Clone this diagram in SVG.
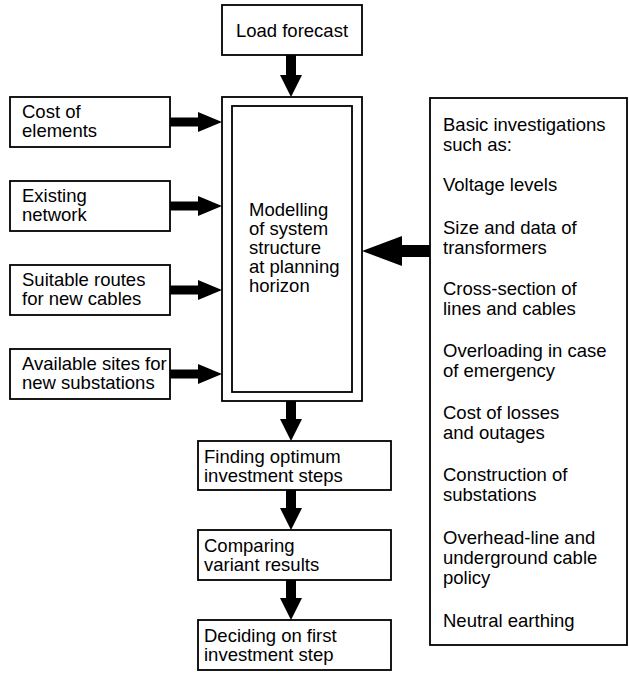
<svg xmlns="http://www.w3.org/2000/svg" width="629" height="673" viewBox="0 0 629 673">
  <style>
    .box { fill: #fff; stroke: #000; stroke-width: 1.8; }
    .txt { font-family: "Liberation Sans", Arial, Helvetica, sans-serif; font-size: 18.5px; fill: #000; }
    .arrow { fill: #000; stroke: none; }
  </style>
  <rect width="629" height="673" fill="#fff"/>

  <!-- connectors: solid block arrows -->
  <g id="connectors">
    <!-- Load forecast -> model -->
    <path class="arrow" d="M286,55 H296 V75 H302 L291,97 L280,75 H286 Z"/>
    <!-- inputs from the left -->
    <path class="arrow" d="M170,117.5 H198 V112 L222,122 L198,132 V126.5 H170 Z"/>
    <path class="arrow" d="M170,201.5 H198 V196 L222,206 L198,216 V210.5 H170 Z"/>
    <path class="arrow" d="M170,285.5 H198 V280 L222,290 L198,300 V294.5 H170 Z"/>
    <path class="arrow" d="M170,369.5 H198 V364 L222,374 L198,384 V378.5 H170 Z"/>
    <!-- basic investigations -> model -->
    <path class="arrow" d="M430,245 H402 V236 L362,251 L402,266 V257 H430 Z"/>
    <!-- model -> decision chain -->
    <path class="arrow" d="M286,401 H296 V419 H302 L291,441 L280,419 H286 Z"/>
    <path class="arrow" d="M286,490 H296 V508 H302 L291,530 L280,508 H286 Z"/>
    <path class="arrow" d="M286,580 H296 V598 H302 L291,620 L280,598 H286 Z"/>
  </g>

  <g id="load-forecast">
    <rect class="box" x="222" y="5" width="140" height="50"/>
    <text class="txt" x="292" y="37" text-anchor="middle">Load forecast</text>
  </g>

  <g id="modelling">
    <rect class="box" x="222" y="97" width="140" height="304"/>
    <rect class="box" x="232" y="106" width="120" height="286"/>
    <text class="txt" x="249" y="216">Modelling</text>
    <text class="txt" x="249" y="235">of system</text>
    <text class="txt" x="249" y="254">structure</text>
    <text class="txt" x="249" y="273">at planning</text>
    <text class="txt" x="249" y="292">horizon</text>
  </g>

  <g id="cost-of-elements">
    <rect class="box" x="10" y="97" width="160" height="50"/>
    <text class="txt" x="22" y="118">Cost of</text>
    <text class="txt" x="22" y="137">elements</text>
  </g>

  <g id="existing-network">
    <rect class="box" x="10" y="181" width="160" height="50"/>
    <text class="txt" x="22" y="202">Existing</text>
    <text class="txt" x="22" y="221">network</text>
  </g>

  <g id="suitable-routes">
    <rect class="box" x="10" y="265" width="160" height="50"/>
    <text class="txt" x="22" y="286">Suitable routes</text>
    <text class="txt" x="22" y="305">for new cables</text>
  </g>

  <g id="available-sites">
    <rect class="box" x="10" y="349" width="160" height="50"/>
    <text class="txt" x="22" y="370">Available sites for</text>
    <text class="txt" x="22" y="389">new substations</text>
  </g>

  <g id="basic-investigations">
    <rect class="box" x="430" y="98" width="197" height="547"/>
    <text class="txt" x="443" y="131">Basic investigations</text>
    <text class="txt" x="443" y="151">such as:</text>
    <text class="txt" x="443" y="191">Voltage levels</text>
    <text class="txt" x="443" y="234">Size and data of</text>
    <text class="txt" x="443" y="254">transformers</text>
    <text class="txt" x="443" y="295">Cross-section of</text>
    <text class="txt" x="443" y="315">lines and cables</text>
    <text class="txt" x="443" y="357">Overloading in case</text>
    <text class="txt" x="443" y="377">of emergency</text>
    <text class="txt" x="443" y="419">Cost of losses</text>
    <text class="txt" x="443" y="439">and outages</text>
    <text class="txt" x="443" y="481">Construction of</text>
    <text class="txt" x="443" y="501">substations</text>
    <text class="txt" x="443" y="544">Overhead-line and</text>
    <text class="txt" x="443" y="564">underground cable</text>
    <text class="txt" x="443" y="584">policy</text>
    <text class="txt" x="443" y="627">Neutral earthing</text>
  </g>

  <g id="finding-optimum">
    <rect class="box" x="198" y="441" width="193" height="49"/>
    <text class="txt" x="204" y="463">Finding optimum</text>
    <text class="txt" x="204" y="482">investment steps</text>
  </g>

  <g id="comparing-variants">
    <rect class="box" x="198" y="530" width="193" height="50"/>
    <text class="txt" x="204" y="552">Comparing</text>
    <text class="txt" x="204" y="571">variant results</text>
  </g>

  <g id="deciding-first-step">
    <rect class="box" x="198" y="620" width="193" height="50"/>
    <text class="txt" x="204" y="642">Deciding on first</text>
    <text class="txt" x="204" y="661">investment step</text>
  </g>
</svg>
